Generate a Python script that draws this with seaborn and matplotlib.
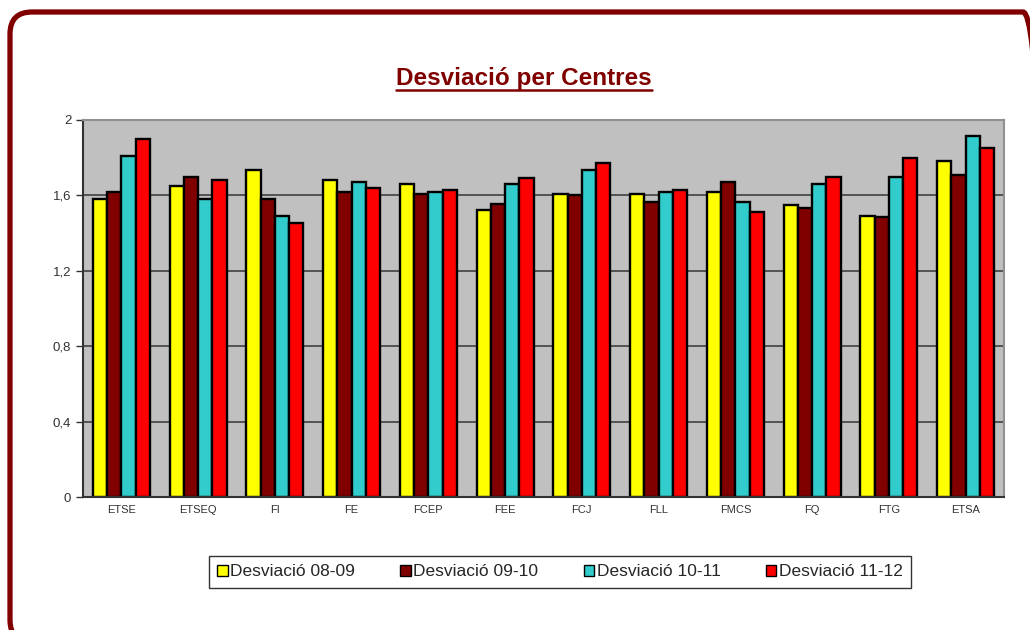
import numpy as np
import pandas as pd
import seaborn as sns
import matplotlib.pyplot as plt
from matplotlib.patches import FancyBboxPatch, Patch
from matplotlib.lines import Line2D
from matplotlib.transforms import IdentityTransform

# Data
centres = ['ETSE', 'ETSEQ', 'FI', 'FE', 'FCEP', 'FEE', 'FCJ', 'FLL', 'FMCS', 'FQ', 'FTG', 'ETSA']
cursos = ['Desviació 08-09', 'Desviació 09-10', 'Desviació 10-11', 'Desviació 11-12']
desv_0809 = [1.58, 1.65, 1.735, 1.68, 1.66, 1.52, 1.61, 1.61, 1.62, 1.55, 1.49, 1.78]
desv_0910 = [1.62, 1.70, 1.58, 1.62, 1.61, 1.555, 1.60, 1.565, 1.67, 1.535, 1.485, 1.71]
desv_1011 = [1.81, 1.58, 1.49, 1.67, 1.62, 1.66, 1.735, 1.62, 1.565, 1.66, 1.70, 1.915]
desv_1112 = [1.90, 1.68, 1.455, 1.64, 1.63, 1.69, 1.77, 1.63, 1.51, 1.70, 1.80, 1.85]
colors = ['#FFFF00', '#800000', '#33CCCC', '#FF0000']
yticks = [0, 0.4, 0.8, 1.2, 1.6, 2.0]
ytick_labels = ['0', '0,4', '0,8', '1,2', '1,6', '2']

rows = []
for curs, vals in zip(cursos, [desv_0809, desv_0910, desv_1011, desv_1112]):
    for c, v in zip(centres, vals):
        rows.append({'centre': c, 'curs': curs, 'valor': v})
df = pd.DataFrame(rows)

sns.set_style('white')
plt.rcParams['font.family'] = ['Liberation Sans', 'DejaVu Sans']

fig = plt.figure(figsize=(10.3, 6.3), dpi=100)

# rounded dark red frame
frame = FancyBboxPatch((10, -12), 1035, 630, boxstyle='round,pad=0,rounding_size=22',
                       transform=IdentityTransform(), facecolor='none',
                       edgecolor='#800000', linewidth=3.8, zorder=-1)
fig.patches.append(frame)

ax = fig.add_axes([83 / 1030, 1 - 497 / 630, 921 / 1030, 377 / 630])
ax.set_facecolor('#C0C0C0')
ax.set_axisbelow(True)
ax.yaxis.grid(True, color='#404040', linewidth=1.2)

sns.barplot(data=df, x='centre', y='valor', hue='curs', hue_order=cursos,
            palette=colors, saturation=1, width=0.74, edgecolor='black',
            linewidth=1.7, ax=ax, legend=False, errorbar=None)

ax.set_ylim(0, 2)
ax.set_xlim(-0.5, len(centres) - 0.5)
ax.set_yticks(yticks)
ax.set_yticklabels(ytick_labels)
ax.set_xlabel('')
ax.set_ylabel('')

ax.set_xticks(np.arange(-0.5, len(centres)), minor=True)
ax.tick_params(axis='x', which='major', length=0, labelsize=8, colors='#333333', pad=6)
ax.tick_params(axis='x', which='minor', length=5, width=1, color='#333333', direction='out')
ax.tick_params(axis='y', length=5, width=1, color='#333333', labelsize=9.5, labelcolor='#333333',
               direction='out', left=True)

for side in ['top', 'right']:
    ax.spines[side].set_color('#909090')
    ax.spines[side].set_linewidth(1.5)
for side in ['left', 'bottom']:
    ax.spines[side].set_color('#333333')
    ax.spines[side].set_linewidth(1.5)

# title with underline
title = fig.text(0.509, 1 - 79 / 630, 'Desviació per Centres', ha='center', va='center',
                 fontsize=17.5, fontweight='bold', color='#800000')
fig.canvas.draw()
bb = title.get_window_extent()
uy = 630 - 90
fig.add_artist(Line2D([bb.x0, bb.x1], [uy, uy], transform=IdentityTransform(),
                      color='#800000', linewidth=1.8))

handles = [Patch(facecolor=c, edgecolor='black', linewidth=1) for c in colors]
leg = fig.legend(handles, cursos, loc='center', bbox_to_anchor=(560 / 1030, 1 - 572 / 630),
                 ncol=4, fontsize=12.5, frameon=True, fancybox=False, edgecolor='black',
                 handlelength=0.6, handleheight=0.6, handletextpad=0.15, columnspacing=2.6,
                 borderpad=0.5)
leg.get_frame().set_linewidth(1)

fig.savefig('out.png', dpi=100)
